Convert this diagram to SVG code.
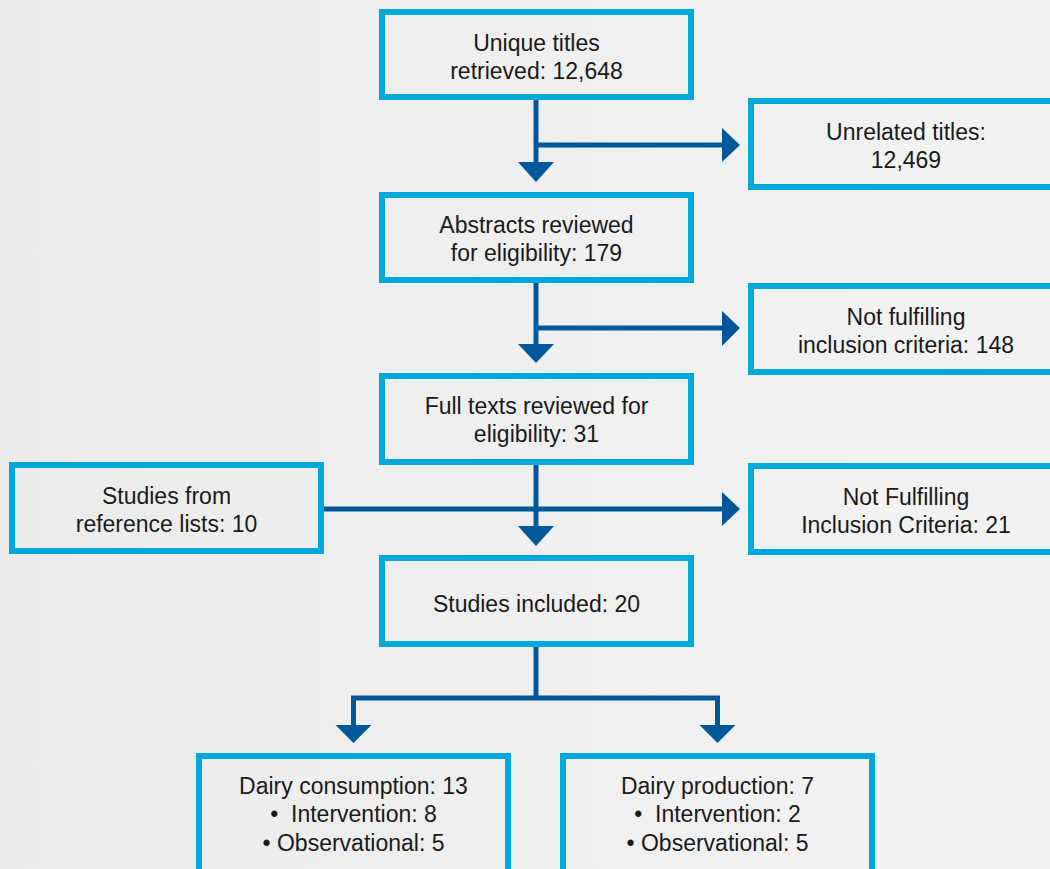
<svg xmlns="http://www.w3.org/2000/svg" width="1050" height="869" viewBox="0 0 1050 869">
<defs>
<linearGradient id="bg" x1="0" y1="0" x2="1" y2="0">
<stop offset="0" stop-color="#ebebeb"/>
<stop offset="1" stop-color="#f3f3f3"/>
</linearGradient>
<style>
.box{fill:none;stroke:#00a8dc;stroke-width:6}
.t{font-family:"Liberation Sans",Arial,sans-serif;font-size:23px;fill:#1a1a1a;text-anchor:middle}
.ln{fill:none;stroke:#00589b;stroke-width:5}
.ah{fill:#00589b}
</style>
</defs>
<rect width="1050" height="869" fill="url(#bg)"/>
<g id="connectors">
<path class="ln" d="M536,100 V163 M536,145 H723"/>
<polygon class="ah" points="518,162 554,162 536,182"/>
<polygon class="ah" points="722,128 722,162 740,145"/>
<path class="ln" d="M536,283 V345 M536,328 H723"/>
<polygon class="ah" points="518,344 554,344 536,363"/>
<polygon class="ah" points="722,311 722,346 740,328"/>
<path class="ln" d="M536,465 V527 M324,509 H723"/>
<polygon class="ah" points="518,526 554,526 536,546"/>
<polygon class="ah" points="722,492 722,526 740,509"/>
<path class="ln" d="M536,647 V698 M353.5,726 V698 H717.5 V726"/>
<polygon class="ah" points="335.5,725 371.5,725 353.5,743"/>
<polygon class="ah" points="699.5,725 735.5,725 717.5,743"/>
</g>
<g id="n1"><rect class="box" x="382" y="12" width="309" height="85"/>
<text class="t" x="536.5" y="51">Unique titles</text><text class="t" x="536.5" y="79">retrieved: 12,648</text></g>
<g id="n2"><rect class="box" x="751" y="101" width="309" height="86"/>
<text class="t" x="906" y="140">Unrelated titles:</text><text class="t" x="906" y="168">12,469</text></g>
<g id="n3"><rect class="box" x="382" y="195" width="309" height="85"/>
<text class="t" x="536.5" y="233">Abstracts reviewed</text><text class="t" x="536.5" y="261">for eligibility: 179</text></g>
<g id="n4"><rect class="box" x="751" y="286" width="309" height="86"/>
<text class="t" x="906" y="325">Not fulfilling</text><text class="t" x="906" y="353">inclusion criteria: 148</text></g>
<g id="n5"><rect class="box" x="382" y="376" width="309" height="86"/>
<text class="t" x="536.5" y="414">Full texts reviewed for</text><text class="t" x="536.5" y="442">eligibility: 31</text></g>
<g id="n6"><rect class="box" x="12" y="465" width="309" height="86"/>
<text class="t" x="166.5" y="504">Studies from</text><text class="t" x="166.5" y="532">reference lists: 10</text></g>
<g id="n7"><rect class="box" x="751" y="466" width="309" height="86"/>
<text class="t" x="906" y="505">Not Fulfilling</text><text class="t" x="906" y="533">Inclusion Criteria: 21</text></g>
<g id="n8"><rect class="box" x="382" y="558" width="309" height="86"/>
<text class="t" x="536.5" y="612">Studies included: 20</text></g>
<g id="n9"><rect class="box" x="199" y="756" width="309" height="130"/>
<text class="t" x="353.5" y="794">Dairy consumption: 13</text><text class="t" x="353.5" y="822">•&#160; Intervention: 8</text><text class="t" x="353.5" y="851">• Observational: 5</text></g>
<g id="n10"><rect class="box" x="563" y="756" width="309" height="130"/>
<text class="t" x="717.5" y="794">Dairy production: 7</text><text class="t" x="717.5" y="822">•&#160; Intervention: 2</text><text class="t" x="717.5" y="851">• Observational: 5</text></g>
</svg>
